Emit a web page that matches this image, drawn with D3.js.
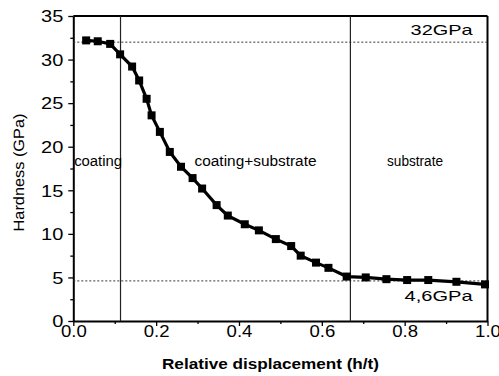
<!DOCTYPE html>
<html>
<head>
<meta charset="utf-8">
<script src="https://cdn.jsdelivr.net/npm/d3@7"></script>
<style>
  body { margin: 0; background: #fff; }
  svg text { font-family: Arial, "Liberation Sans", sans-serif; fill: #000; }
  .ytitle { text-rendering: geometricPrecision; -webkit-font-smoothing: antialiased; }
</style>
</head>
<body>
<div id="chart"></div>
<script>
// hardness vs relative displacement
var displacement = [0.031, 0.059, 0.089, 0.113, 0.142, 0.159, 0.177, 0.189, 0.209, 0.233,
                    0.260, 0.288, 0.311, 0.346, 0.373, 0.414, 0.448, 0.489, 0.526, 0.549,
                    0.586, 0.616, 0.660, 0.706, 0.756, 0.806, 0.857, 0.925, 0.994];
var hardness = [32.2, 32.1, 31.8, 30.6, 29.2, 27.6, 25.5, 23.6, 21.7, 19.4,
                17.7, 16.4, 15.2, 13.3, 12.1, 11.1, 10.4, 9.4, 8.6, 7.5,
                6.7, 6.1, 5.1, 5.0, 4.8, 4.7, 4.7, 4.5, 4.2];
var xTicks = [0, 0.2, 0.4, 0.6, 0.8, 1.0];
var xMinor = [0.1, 0.3, 0.5, 0.7, 0.9];
var yTicks = [0, 5, 10, 15, 20, 25, 30, 35];
var yMinor = [2.5, 7.5, 12.5, 17.5, 22.5, 27.5, 32.5];
var regionBounds = [0.114, 0.669];
var regionLabels = [
  { name: "coating", x: 0.002, y: 17.8, anchor: "start", len: 48 },
  { name: "coating+substrate", x: 0.440, y: 17.8, anchor: "middle", len: 122 },
  { name: "substrate", x: 0.825, y: 17.8, anchor: "middle", len: 56 }
];
var refLevels = [32, 4.6];

var margin = { top: 16, right: 11.5, bottom: 55, left: 73.3 },
    W = 499, H = 376,
    w = W - margin.left - margin.right,
    h = H - margin.top - margin.bottom;

var svg = d3.select("#chart").append("svg").attr("width", W).attr("height", H);
var g = svg.append("g").attr("transform", "translate(" + margin.left + "," + margin.top + ")");

var x = d3.scaleLinear().domain([0, 1]).range([0, w]);
var y = d3.scaleLinear().domain([0, 35]).range([h, 0]);

// minor ticks
g.append("g").attr("transform", "translate(0," + h + ")")
  .call(d3.axisBottom(x).tickValues(xMinor).tickSize(3).tickFormat(""))
  .call(a => a.select(".domain").remove());
g.append("g")
  .call(d3.axisLeft(y).tickValues(yMinor).tickSize(3).tickFormat(""))
  .call(a => a.select(".domain").remove());

// major axes (the source text is a bit stretched sideways)
var xAxis = g.append("g").attr("transform", "translate(0," + h + ")")
  .call(d3.axisBottom(x).tickValues(xTicks).tickSize(5).tickSizeOuter(0).tickFormat(d3.format(".1f")));
var yAxis = g.append("g")
  .call(d3.axisLeft(y).tickValues(yTicks).tickSize(5).tickSizeOuter(0));
xAxis.selectAll("text").attr("font-size", 16).attr("y", 5).attr("dy", "0.71em")
  .attr("transform", "scale(1.16,1)");
yAxis.selectAll("text").attr("font-size", 16).attr("dy", "0.36em").attr("x", -8)
  .attr("transform", "scale(1.25,1)");
g.selectAll(".tick line").attr("stroke-width", 1.3);
g.selectAll(".domain").attr("stroke-width", 2);

// frame top/right
g.append("line").attr("x1", 0).attr("x2", w).attr("y1", 0).attr("y2", 0).attr("stroke", "#000").attr("stroke-width", 2);
g.append("line").attr("x1", w).attr("x2", w).attr("y1", 0).attr("y2", h).attr("stroke", "#000").attr("stroke-width", 2);

// reference levels
g.selectAll(".ref").data(refLevels).enter().append("line")
  .attr("x1", 0).attr("x2", w)
  .attr("y1", d => y(d)).attr("y2", d => y(d))
  .attr("stroke", "#333").attr("stroke-width", 1).attr("stroke-dasharray", "2,2");

// region boundaries
g.selectAll(".bound").data(regionBounds).enter().append("line")
  .attr("x1", d => x(d)).attr("x2", d => x(d))
  .attr("y1", 0).attr("y2", h)
  .attr("stroke", "#222").attr("stroke-width", 1.2);

g.selectAll(".region").data(regionLabels).enter().append("text")
  .attr("x", d => x(d.x)).attr("y", d => y(d.y))
  .attr("text-anchor", d => d.anchor).attr("font-size", 14)
  .attr("textLength", d => d.len).attr("lengthAdjust", "spacingAndGlyphs")
  .text(d => d.name);

// level labels
g.append("text").attr("x", x(0.964)).attr("y", y(refLevels[0]) - 7)
  .attr("text-anchor", "end").attr("font-size", 15)
  .attr("textLength", 62).attr("lengthAdjust", "spacingAndGlyphs").text("32GPa");
g.append("text").attr("x", x(0.964)).attr("y", y(refLevels[1]) + 20)
  .attr("text-anchor", "end").attr("font-size", 15)
  .attr("textLength", 68).attr("lengthAdjust", "spacingAndGlyphs").text("4,6GPa");

// curve
var pts = displacement.map((d, i) => [d, hardness[i]]);
g.append("path").datum(pts)
  .attr("fill", "none").attr("stroke", "#000").attr("stroke-width", 3.2)
  .attr("d", d3.line().x(d => x(d[0])).y(d => y(d[1])));
g.selectAll(".pt").data(pts).enter().append("rect")
  .attr("x", d => x(d[0]) - 4).attr("y", d => y(d[1]) - 4)
  .attr("width", 8).attr("height", 8).attr("fill", "#000");

// axis titles
svg.append("text").attr("x", 270.5).attr("y", 369)
  .attr("text-anchor", "middle").attr("font-size", 14).attr("font-weight", "bold")
  .attr("textLength", 217).attr("lengthAdjust", "spacingAndGlyphs")
  .text("Relative displacement (h/t)");
svg.append("g").attr("transform", "translate(24,172.5) rotate(-90)")
  .append("text").attr("class", "ytitle")
  .attr("text-anchor", "middle").attr("font-size", 15).attr("fill", "#000")
  .attr("textLength", 118).attr("lengthAdjust", "spacingAndGlyphs")
  .text("Hardness (GPa)");
</script>
</body>
</html>
